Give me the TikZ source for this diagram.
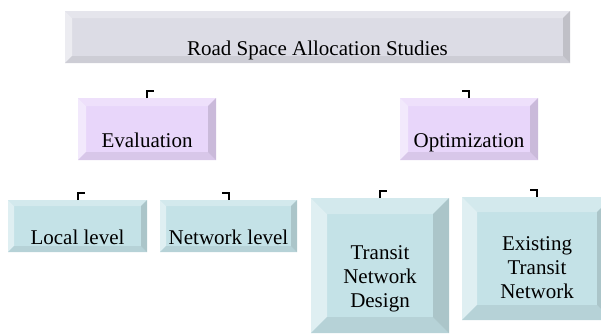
\documentclass[tikz,border=0pt]{standalone}
\usepackage{fontspec}
\setmainfont{Liberation Serif}
\usetikzlibrary{calc, positioning}

\definecolor{greyface}{RGB}{220,220,229}
\definecolor{lilacface}{RGB}{232,214,250}
\definecolor{aquaface}{RGB}{196,226,231}

\begin{document}
\begin{tikzpicture}[x=1pt, y=-1pt,
  font=\fontsize{21}{24}\selectfont,
  face/.store in=\facecol, face=greyface,
  bevel/.store in=\bev, bevel=6pt,
  box/.style={rectangle, inner sep=0pt, outer sep=0pt,
    path picture={
      \coordinate (nw) at (path picture bounding box.north west);
      \coordinate (ne) at (path picture bounding box.north east);
      \coordinate (sw) at (path picture bounding box.south west);
      \coordinate (se) at (path picture bounding box.south east);
      \fill[\facecol] (nw) rectangle (se);
      % bevelled rim
      \fill[\facecol!75!white] (nw) -- (ne) -- ([xshift=-\bev, yshift=-\bev]ne) -- ([xshift=\bev, yshift=-\bev]nw) -- cycle;
      \fill[\facecol!55!white] (nw) -- (sw) -- ([xshift=\bev, yshift=\bev]sw) -- ([xshift=\bev, yshift=-\bev]nw) -- cycle;
      \fill[\facecol!93!black] (sw) -- (se) -- ([xshift=-\bev, yshift=\bev]se) -- ([xshift=\bev, yshift=\bev]sw) -- cycle;
      \fill[\facecol!87!black] (ne) -- (se) -- ([xshift=-\bev, yshift=\bev]se) -- ([xshift=-\bev, yshift=-\bev]ne) -- cycle;
    }},
  lbl/.style={yshift=-11pt, align=center, inner sep=0pt},
  stub/.style={line width=2pt}]

  \clip (0,0) rectangle (601,333);

  \node[box, bevel=7pt, minimum width=505pt, minimum height=52pt,
    label={[lbl, yshift=-2pt]center:Road Space Allocation Studies}] (rsa) at (317.5,37) {};

  \node[box, face=lilacface, bevel=8pt, minimum width=138pt, minimum height=62pt,
    label={[lbl]center:Evaluation}] (eval) at (147,129) {};
  \node[box, face=lilacface, bevel=8pt, minimum width=138pt, minimum height=62pt,
    label={[lbl, yshift=-3pt]center:Optimization}] (optim) at (469,129) {};

  \node[box, face=aquaface, minimum width=139pt, minimum height=52pt,
    label={[lbl]center:Local level}] (local) at (77.5,226) {};
  \node[box, face=aquaface, minimum width=137pt, minimum height=52pt,
    label={[lbl]center:Network level}] (netw) at (228.5,226) {};

  \node[box, face=aquaface, bevel=16pt, minimum width=138pt, minimum height=135pt,
    label={[lbl, yshift=-2pt]center:Transit\\Network\\Design}] (tnd) at (380,265.5) {};
  \node[box, face=aquaface, bevel=15pt, minimum width=150pt, minimum height=123pt,
    label={[lbl, yshift=2pt]center:Existing\\Transit\\Network}] (etn) at (537,258.5) {};

  % elbow stubs above each child
  \draw[stub] (eval.north) -- ++(0,-7) -- ++(7,0);
  \draw[stub] (optim.north) -- ++(0,-7) -- ++(-7,0);
  \draw[stub] (local.north) -- ++(0,-7) -- ++(7,0);
  \draw[stub] (netw.north) -- ++(0,-7) -- ++(-7,0);
  \draw[stub] (tnd.north) -- ++(0,-7) -- ++(7,0);
  \draw[stub] (etn.north) -- ++(0,-7) -- ++(-7,0);
\end{tikzpicture}
\end{document}
